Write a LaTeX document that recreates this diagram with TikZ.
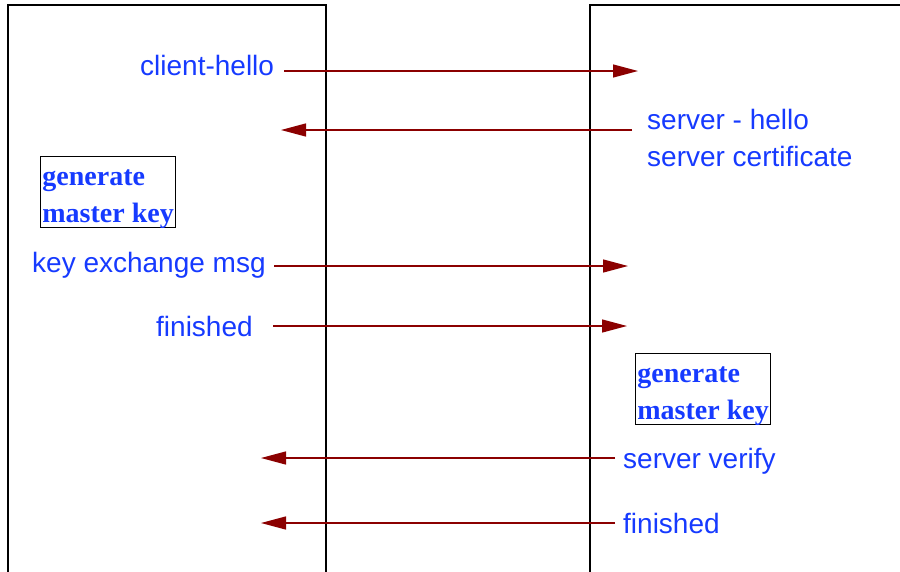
\documentclass[tikz,border=0pt]{standalone}
\usepackage{fontspec}
\setmainfont{Liberation Serif}
\setsansfont{Liberation Sans}
\usetikzlibrary{arrows.meta}

\definecolor{msgblue}{RGB}{22,58,255}
\definecolor{msgred}{RGB}{139,0,0}

\tikzset{
    lane/.style={line width=1.3pt, black},
    msg/.style={line width=1.3pt, msgred, -{Triangle[length=25pt, width=13pt]}},
    label/.style={anchor=base west, inner sep=0pt, text=msgblue,
        font=\sffamily\fontsize{28}{36}\selectfont, align=left},
    keybox/.style={draw, line width=1.2pt, anchor=north west, inner sep=1pt,
        text=msgblue, font=\bfseries\fontsize{28}{37}\selectfont, align=left,
        text height=61pt, text depth=0pt,
        minimum width=135pt, minimum height=71pt}
}

\begin{document}
\begin{tikzpicture}[x=1pt, y=-1pt]
    \useasboundingbox (0,0) rectangle (900,571);

    % 1. Client and server lanes
    \draw[lane] (8,575) -- (8,5) -- (326,5) -- (326,575);
    \draw[lane] (590,575) -- (590,5) -- (905,5);

    % 2. Message texts
    \node[label] (chello) at (140,75) {client-hello};
    \node[label] (shello) at (647,166) {server - hello\\[1pt]server certificate};
    \node[label] (kex) at (32,272) {key exchange msg};
    \node[label] (cfin) at (156,336) {finished};
    \node[label] (sverify) at (623,468) {server verify};
    \node[label] (sfin) at (623,533) {finished};

    % 3. Master key boxes
    \node[keybox] (ckey) at (40,156) {generate\\master key};
    \node[keybox] (skey) at (635,353) {generate\\master key};

    % 4. Arrow ends
    \coordinate (chello-a) at (284,71);
    \coordinate (chello-b) at (638,71);
    \coordinate (shello-a) at (632,130);
    \coordinate (shello-b) at (281,130);
    \coordinate (kex-a) at (274,266);
    \coordinate (kex-b) at (628,266);
    \coordinate (cfin-a) at (273,326);
    \coordinate (cfin-b) at (627,326);
    \coordinate (sverify-a) at (615,458);
    \coordinate (sverify-b) at (261,458);
    \coordinate (sfin-a) at (615,523);
    \coordinate (sfin-b) at (261,523);

    % 5. Messages
    \draw[msg] (chello-a) -- (chello-b);
    \draw[msg] (shello-a) -- (shello-b);
    \draw[msg] (kex-a) -- (kex-b);
    \draw[msg] (cfin-a) -- (cfin-b);
    \draw[msg] (sverify-a) -- (sverify-b);
    \draw[msg] (sfin-a) -- (sfin-b);
\end{tikzpicture}
\end{document}
